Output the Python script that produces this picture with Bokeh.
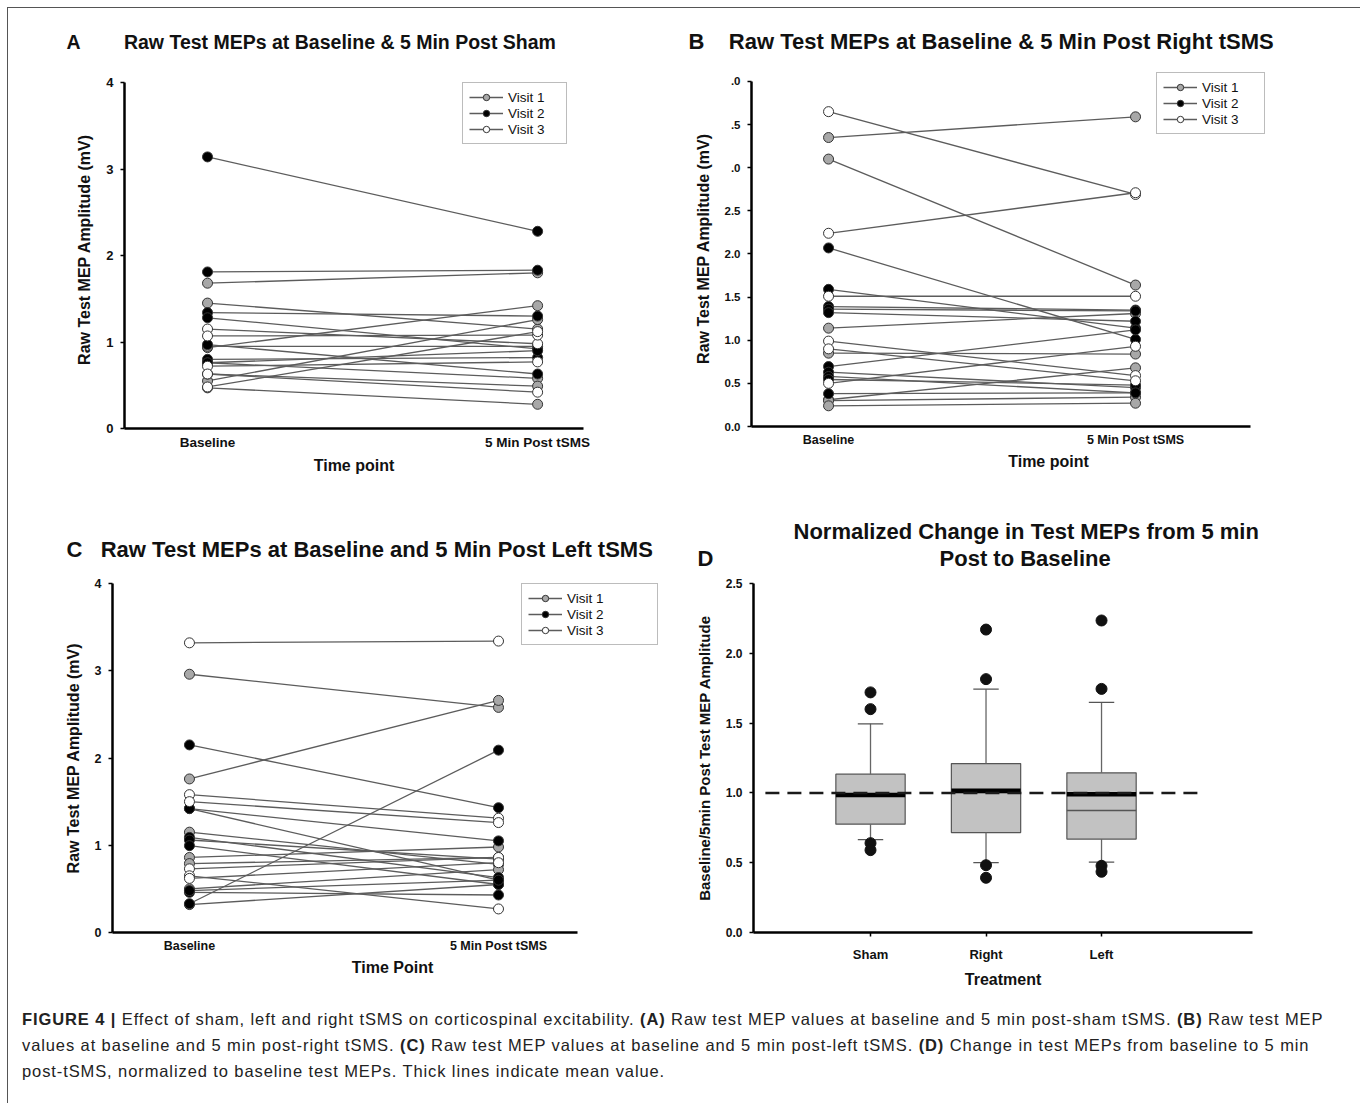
from bokeh.plotting import figure
from bokeh.models import (Range1d, FixedTicker, Legend, LegendItem, Div, Spacer, Title,
                          PrintfTickFormatter)
from bokeh.layouts import column, row
from bokeh.embed import file_html
from bokeh.resources import INLINE

# ---------------- data ----------------
time_labels = ["Baseline", "5 Min Post tSMS"]
visit_labels = ["Visit 1", "Visit 2", "Visit 3"]

# Panel A - Sham
a_base = [3.14, 1.81, 1.34, 1.28, 0.97, 0.80, 0.76,
          1.68, 1.45, 0.935, 0.95, 0.55, 0.47, 0.76, 0.63,
          1.15, 1.07, 0.72, 0.63, 0.48]
a_post = [2.28, 1.83, 1.30, 0.92, 0.63, 0.82, 0.90,
          1.80, 1.15, 1.42, 0.95, 1.26, 0.28, 0.58, 0.49,
          0.98, 1.08, 0.77, 0.42, 1.12]
a_visit = [2, 2, 2, 2, 2, 2, 2,
           1, 1, 1, 1, 1, 1, 1, 1,
           3, 3, 3, 3, 3]

# Panel B - Right tSMS
b_base = [3.65, 2.24, 1.51, 0.99, 0.90, 0.50,
          3.35, 3.10, 1.14, 0.85, 0.31, 0.30, 0.24,
          2.07, 1.59, 1.39, 1.36, 1.32, 0.695, 0.63, 0.58, 0.545, 0.38]
b_post = [2.69, 2.71, 1.51, 0.59, 0.53, 0.93,
          3.59, 1.64, 1.31, 0.84, 0.68, 0.34, 0.27,
          1.01, 1.14, 1.35, 1.34, 1.22, 1.12, 0.45, 0.39, 0.48, 0.39]
b_visit = [3, 3, 3, 3, 3, 3,
           1, 1, 1, 1, 1, 1, 1,
           2, 2, 2, 2, 2, 2, 2, 2, 2, 2]
b_tick_labels = {4: ".0", 3.5: ".5", 3: ".0"}   # as printed (truncated) in the figure

# Panel C - Left tSMS
c_base = [3.32, 1.58, 1.50, 0.73, 0.65, 0.62,
          2.96, 1.76, 1.42, 1.15, 0.86, 0.79, 0.50, 0.32,
          2.15, 0.33, 1.42, 1.09, 1.06, 0.995, 0.46, 0.48]
c_post = [3.34, 1.31, 1.26, 0.86, 0.27, 0.80,
          2.58, 2.66, 0.60, 0.78, 0.98, 0.86, 0.72, 0.55,
          1.43, 2.09, 1.05, 0.63, 0.84, 0.55, 0.43, 0.60]
c_visit = [3, 3, 3, 3, 3, 3,
           1, 1, 1, 1, 1, 1, 1, 1,
           2, 2, 2, 2, 2, 2, 2, 2]

# Panel D - normalized change (box plot)
d_cats = ["Sham", "Right", "Left"]
d_q1 = [0.776, 0.716, 0.669]
d_q3 = [1.134, 1.210, 1.144]
d_median = [0.980, 1.000, 0.874]
d_mean = [0.985, 1.015, 0.990]
d_wlow = [0.666, 0.501, 0.504]
d_whigh = [1.495, 1.743, 1.648]
d_out_cat = ["Sham", "Sham", "Sham", "Sham",
             "Right", "Right", "Right", "Right",
             "Left", "Left", "Left", "Left"]
d_out_val = [1.72, 1.60, 0.64, 0.59,
             2.17, 1.815, 0.482, 0.392,
             2.235, 1.745, 0.478, 0.435]
d_ref = 1.0

# ---------------- styles ----------------
FONT = "Liberation Sans"
LINE_C = "#5c5c5c"
EDGE_C = "#333333"
FILLS = ["#a8a8a8", "#000000", "#ffffff"]
NB = "\u00a0"


def make_fig(fw, fh, bl, br, bt, bb, xr, yr, xsize, ysize):
    p = figure(frame_width=fw, frame_height=fh,
               min_border_left=bl, min_border_right=br,
               min_border_top=bt, min_border_bottom=bb,
               x_range=Range1d(*xr), y_range=Range1d(*yr),
               output_backend="svg", toolbar_location=None,
               background_fill_color="white", border_fill_color="white")
    p.grid.visible = False
    p.outline_line_color = None
    for ax in (p.xaxis[0], p.yaxis[0]):
        ax.axis_line_width = 2.5
        ax.axis_line_color = "black"
        ax.major_label_text_font = FONT
        ax.major_label_text_font_style = "bold"
        ax.major_label_text_color = "#111111"
        ax.axis_label_text_font = FONT
        ax.axis_label_text_font_style = "bold"
        ax.axis_label_text_font_size = "16px"
        ax.axis_label_text_color = "#111111"
        ax.minor_tick_line_color = None
        ax.major_tick_line_width = 1.5
        ax.major_tick_line_color = "black"
        ax.major_tick_in = 0
        ax.major_tick_out = 4
    p.xaxis[0].major_label_text_font_size = xsize
    p.yaxis[0].major_label_text_font_size = ysize
    p.yaxis[0].major_label_standoff = 7
    p.yaxis[0].axis_label_standoff = 10
    return p


def add_title(p, text, size, offset, standoff, align="left"):
    p.add_layout(Title(text=text, align=align, offset=offset, standoff=standoff,
                       text_font=FONT, text_font_style="bold", text_font_size=size,
                       text_color="#111111"), "above")


def raw_panel(base, post, visits, fw, fh, bl, br, bt, bb, xr, x_bounds, y_top, xlabel,
              xlabel_standoff, title, title_size, title_offset, title_standoff,
              legend_xy, legend_label_w, xsize, ysize, y_overrides=None, y_ticks=None):
    t_pos = list(range(len(time_labels)))
    p = make_fig(fw, fh, bl, br, bt, bb, xr, (0, y_top), xsize, ysize)
    xs = [[t_pos[0], t_pos[1]] for _ in base]
    ys = [[b, q] for b, q in zip(base, post)]
    ml = p.multi_line(xs, ys, line_color=LINE_C, line_width=1.3)
    items = []
    for k, lab in enumerate(visit_labels):
        v = k + 1
        by = [b for b, vv in zip(base, visits) if vv == v]
        py = [q for q, vv in zip(post, visits) if vv == v]
        sx = [t_pos[0]] * len(by) + [t_pos[1]] * len(py)
        sc = p.scatter(sx, by + py, marker="circle", size=10,
                       fill_color=FILLS[k], line_color=EDGE_C, line_width=1)
        items.append(LegendItem(label=lab, renderers=[ml, sc]))
    leg = Legend(items=items, location=legend_xy, orientation="vertical",
                 border_line_color="#7a7a7a", border_line_width=1,
                 background_fill_color="white", background_fill_alpha=1,
                 padding=6, spacing=0, margin=0,
                 glyph_width=34, glyph_height=16, label_height=16,
                 label_width=legend_label_w, label_standoff=5,
                 label_text_font=FONT, label_text_font_size="13.5px",
                 label_text_color="#111111")
    p.add_layout(leg)
    xa = p.xaxis[0]
    xa.ticker = FixedTicker(ticks=t_pos)
    xa.major_label_overrides = {t: l for t, l in zip(t_pos, time_labels)}
    xa.major_tick_line_color = None
    xa.major_tick_out = 0
    xa.major_label_standoff = 6
    xa.axis_label = xlabel
    xa.axis_label_standoff = xlabel_standoff
    if x_bounds:
        xa.bounds = x_bounds
    ya = p.yaxis[0]
    ya.axis_label = "Raw Test MEP Amplitude (mV)"
    ya.ticker = FixedTicker(ticks=y_ticks if y_ticks else [0, 1, 2, 3, 4])
    ya.bounds = (0, 4)
    if y_overrides:
        ya.formatter = PrintfTickFormatter(format="%.1f")
        ya.major_label_overrides = y_overrides
    add_title(p, title, title_size, title_offset, title_standoff)
    return p


pA = raw_panel(a_base, a_post, a_visit, 459, 358, 116, 97, 62, 67,
               (-0.2515, 1.139), None, 4.139, "Time point", 4,
               "A" + NB * 8 + "Raw Test MEPs at Baseline & 5 Min Post Sham", "19.5px", -58, 36,
               (338, 284), 52, "13.5px", "13px")

pB = raw_panel(b_base, b_post, b_visit, 594, 356, 71, 9, 62, 69,
               (-0.251, 1.684), (-0.251, 1.375), 4.127, "Time point", 3,
               "B" + NB * 4 + "Raw Test MEPs at Baseline & 5 Min Post Right tSMS", "22px", -63, 33,
               (405, 292), 56, "12.5px", "11.5px",
               y_overrides=b_tick_labels,
               y_ticks=[0, 0.5, 1, 1.5, 2, 2.5, 3, 3.5, 4])

pC = raw_panel(c_base, c_post, c_visit, 560, 349, 104, 8, 88, 68,
               (-0.249, 1.563), (-0.249, 1.256), 4.0, "Time Point", 3,
               "C" + NB * 3 + "Raw Test MEPs at Baseline and 5 Min Post Left tSMS", "22px", -46, 43,
               (409, 287), 84, "12.5px", "12.5px")

# Panel D
d_pos = list(range(1, len(d_cats) + 1))
BOX_W = 0.6
CAP_W = 0.22
pD = make_fig(499, 349, 73, 102, 87, 69, (-0.013, 4.307), (0, 2.5), "13px", "12px")
pD.vbar(x=d_pos, bottom=d_q1, top=d_q3, width=BOX_W,
        fill_color="#c2c2c2", line_color="#555555", line_width=1.2)
pD.segment(x0=d_pos, y0=d_q3, x1=d_pos, y1=d_whigh, line_color="#666666", line_width=1.3)
pD.segment(x0=d_pos, y0=d_wlow, x1=d_pos, y1=d_q1, line_color="#666666", line_width=1.3)
pD.segment(x0=[x - CAP_W / 2 for x in d_pos], y0=d_whigh, x1=[x + CAP_W / 2 for x in d_pos], y1=d_whigh,
           line_color="#555555", line_width=1.3)
pD.segment(x0=[x - CAP_W / 2 for x in d_pos], y0=d_wlow, x1=[x + CAP_W / 2 for x in d_pos], y1=d_wlow,
           line_color="#555555", line_width=1.3)
pD.segment(x0=[x - BOX_W / 2 for x in d_pos], y0=d_median, x1=[x + BOX_W / 2 for x in d_pos], y1=d_median,
           line_color="#555555", line_width=1.3)
pD.segment(x0=[x - BOX_W / 2 for x in d_pos], y0=d_mean, x1=[x + BOX_W / 2 for x in d_pos], y1=d_mean,
           line_color="black", line_width=4.5)
pD.segment(x0=[0.09], y0=[d_ref], x1=[3.83], y1=[d_ref], line_color="#1a1a1a", line_width=2.5,
           line_dash="14 8")
out_x = [d_cats.index(c) + 1 for c in d_out_cat]
pD.scatter(out_x, d_out_val, marker="circle", size=11, fill_color="#111111", line_color="#111111")
pD.xaxis[0].ticker = FixedTicker(ticks=d_pos)
pD.xaxis[0].major_label_overrides = {x: c for x, c in zip(d_pos, d_cats)}
pD.xaxis[0].major_label_standoff = 10
pD.xaxis[0].axis_label = "Treatment"
pD.xaxis[0].axis_label_standoff = 6
pD.yaxis[0].ticker = FixedTicker(ticks=[0, 0.5, 1.0, 1.5, 2.0, 2.5])
pD.yaxis[0].formatter = PrintfTickFormatter(format="%.1f")
pD.yaxis[0].axis_label = "Baseline/5min Post Test MEP Amplitude"
pD.yaxis[0].axis_label_text_font_size = "15px"
# two-line title: the line nearest the plot is added first
add_title(pD, "D" + NB * 37 + "Post to Baseline", "22px", -56, 26)
add_title(pD, "Normalized Change in Test MEPs from 5 min", "22px", 40, -26)

caption_html = (
    '<div style="font-family: \'Liberation Sans\', Arial, sans-serif; '
    'font-size: 16.5px; line-height: 26px; color: #222; white-space: nowrap; '
    'padding: 1px 0 0 9px; letter-spacing: 0.9px;">'
    '<b>FIGURE 4 |</b> Effect of sham, left and right tSMS on corticospinal excitability. '
    '<b>(A)</b> Raw test MEP values at baseline and 5 min post-sham tSMS. <b>(B)</b> Raw test MEP<br>'
    'values at baseline and 5 min post-right tSMS. <b>(C)</b> Raw test MEP values at baseline and '
    '5 min post-left tSMS. <b>(D)</b> Change in test MEPs from baseline to 5 min<br>'
    'post-tSMS, normalized to baseline test MEPs. Thick lines indicate mean value.'
    '</div>'
)
cap = Div(text=caption_html, width=1346, height=96)

inner = column(row(pA, pB), row(pC, pD), cap, styles={"border": "1px solid #555555"})
root = column(Spacer(height=7), row(Spacer(width=7), inner))

open("out.html", "w").write(file_html(root, INLINE))
